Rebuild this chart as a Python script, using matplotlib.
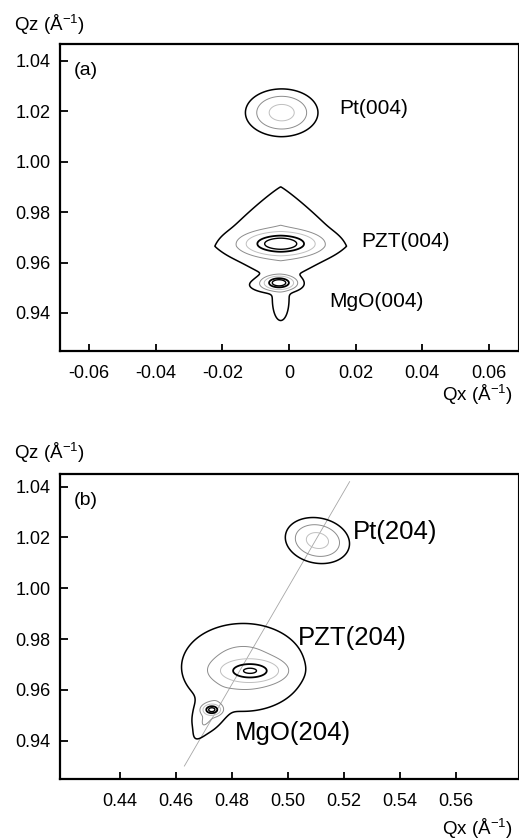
import numpy as np
import matplotlib
matplotlib.use("Agg")
import matplotlib.pyplot as plt

plt.rcParams['font.family'] = ['Liberation Sans', 'DejaVu Sans']
plt.rcParams['mathtext.fontset'] = 'custom'
plt.rcParams['mathtext.rm'] = 'Liberation Sans'
plt.rcParams['mathtext.it'] = 'Liberation Sans:italic'
plt.rcParams['axes.unicode_minus'] = False

# (a) symmetric (004) map: Pt, PZT core, PZT diffuse, MgO, MgO wing, MgO streak
a_qx = [-0.0022, -0.0025, -0.0025, -0.0030, -0.0042, -0.0025]
a_qz = [1.0195, 0.9675, 0.9665, 0.9520, 0.9510, 0.9445]
a_wx = [0.0059, 0.0070, 0.0085, 0.0030, 0.0055, 0.0022]
a_wz = [0.0051, 0.0031, 0.0103, 0.0018, 0.0022, 0.0070]      # upper side
a_wz_lo = [0.0051, 0.0031, 0.0062, 0.0018, 0.0022, 0.0070]   # lower side
a_amp = [30, 150, 12, 150, 5, 3]
a_shape = [2, 2, 1.1, 2, 2, 2]
a_tilt = [0, 0, 0, 0, 0, 0]

# (b) asymmetric (204) map
b_qx = [0.5105, 0.4865, 0.4840, 0.4728, 0.4722, 0.4703]
b_qz = [1.0188, 0.9675, 0.9690, 0.9522, 0.9515, 0.9472]
b_wx = [0.0063, 0.0074, 0.0145, 0.0022, 0.0040, 0.0018]
b_wz = [0.0048, 0.0032, 0.0113, 0.0015, 0.0070, 0.0058]
b_wz_lo = [0.0048, 0.0032, 0.0115, 0.0015, 0.0070, 0.0058]
b_amp = [30, 100, 10, 120, 6, 3]
b_shape = [2, 2, 2, 2, 2, 2]
b_tilt = [-15, 0, 0, 0, -26.6, -26.6]

# relaxation line through origin in (b)
line_qx = [0.463, 0.522]
line_qz = [0.930, 1.042]

levels = [1, 6, 20, 60, 100]
a_xticks = [-0.06, -0.04, -0.02, 0, 0.02, 0.04, 0.06]
a_xlabels = ['-0.06', '-0.04', '-0.02', '0', '0.02', '0.04', '0.06']
b_xticks = [0.44, 0.46, 0.48, 0.50, 0.52, 0.54, 0.56]
b_xlabels = ['0.44', '0.46', '0.48', '0.50', '0.52', '0.54', '0.56']
yticks = [0.94, 0.96, 0.98, 1.00, 1.02, 1.04]
ylabels = ['0.94', '0.96', '0.98', '1.00', '1.02', '1.04']

a_text = ['Pt(004)', 'PZT(004)', 'MgO(004)']
a_text_x = [0.0150, 0.0216, 0.0120]
a_text_z = [1.0213, 0.9682, 0.9444]
b_text = ['Pt(204)', 'PZT(204)', 'MgO(204)']
b_text_x = [0.5232, 0.5036, 0.4811]
b_text_z = [1.0223, 0.9803, 0.9429]


def intensity(X, Z, qx, qz, wx, wz, wz_lo, amp, shape, tilt):
    I = np.zeros_like(X)
    for x0, z0, sx, su, sl, A, p, t in zip(qx, qz, wx, wz, wz_lo, amp, shape, tilt):
        t = np.radians(t)
        dx, dz = X - x0, Z - z0
        u = dx * np.cos(t) + dz * np.sin(t)
        v = -dx * np.sin(t) + dz * np.cos(t)
        sz = np.where(v >= 0, su, sl)
        I += A * np.exp(-(np.abs(u / sx) ** p + np.abs(v / sz) ** p))
    return I


def style(ax, xlim, ylim, xt, xl, tag):
    ax.set_xlim(*xlim)
    ax.set_ylim(*ylim)
    ax.set_xticks(xt)
    ax.set_xticklabels(xl)
    ax.set_yticks(yticks)
    ax.set_yticklabels(ylabels)
    ax.tick_params(direction='in', length=5, width=1.3, labelsize=13)
    ax.tick_params(axis='x', pad=10)
    ax.tick_params(axis='y', pad=7, length=6)
    for s in ['left', 'bottom', 'top']:
        ax.spines[s].set_linewidth(1.6)
    ax.spines['right'].set_linewidth(0.8)
    ax.text(0.03, 0.915, tag, transform=ax.transAxes, fontsize=14,
            va='center', ha='left')


fig = plt.figure(figsize=(5.19, 8.4), dpi=100)
ax1 = fig.add_axes([0.1156, 0.5821, 0.8819, 0.3651])
ax2 = fig.add_axes([0.1156, 0.0723, 0.8819, 0.3631])

cols = ['black', '0.55', '0.75', 'black', 'black']
lws = [1.1, 0.7, 0.7, 1.3, 1.0]

# panel (a)
xa = np.linspace(-0.069, 0.069, 700)
za = np.linspace(0.9249, 1.0466, 700)
Xa, Za = np.meshgrid(xa, za)
Ia = intensity(Xa, Za, a_qx, a_qz, a_wx, a_wz, a_wz_lo, a_amp, a_shape, a_tilt)
ax1.contour(Xa, Za, Ia, levels=levels, colors=cols, linewidths=lws)
style(ax1, (-0.0688, 0.0687), (0.9249, 1.0466), a_xticks, a_xlabels, '(a)')
for s, x, z in zip(a_text, a_text_x, a_text_z):
    ax1.text(x, z, s, fontsize=15, va='center', ha='left')

# panel (b)
xb = np.linspace(0.4186, 0.582, 700)
zb = np.linspace(0.9248, 1.0449, 700)
Xb, Zb = np.meshgrid(xb, zb)
Ib = intensity(Xb, Zb, b_qx, b_qz, b_wx, b_wz, b_wz_lo, b_amp, b_shape, b_tilt)
ax2.plot(line_qx, line_qz, color='0.65', lw=0.6)
ax2.contour(Xb, Zb, Ib, levels=levels, colors=cols, linewidths=lws)
style(ax2, (0.4186, 0.582), (0.9248, 1.0449), b_xticks, b_xlabels, '(b)')
for s, x, z in zip(b_text, b_text_x, b_text_z):
    ax2.text(x, z, s, fontsize=18.5, va='center', ha='left')

# axis titles
qz_lab = r'Qz (Å$^{-1}$)'
qx_lab = r'Qx (Å$^{-1}$)'
fig.text(14 / 519, 1 - 25 / 840, qz_lab, fontsize=13.5, va='center', ha='left')
fig.text(14 / 519, 1 - 453 / 840, qz_lab, fontsize=13.5, va='center', ha='left')
fig.text(513 / 519, 1 - 395 / 840, qx_lab, fontsize=13.5, va='center', ha='right')
fig.text(513 / 519, 1 - 829 / 840, qx_lab, fontsize=13.5, va='center', ha='right')

fig.savefig('out.png', dpi=100)
